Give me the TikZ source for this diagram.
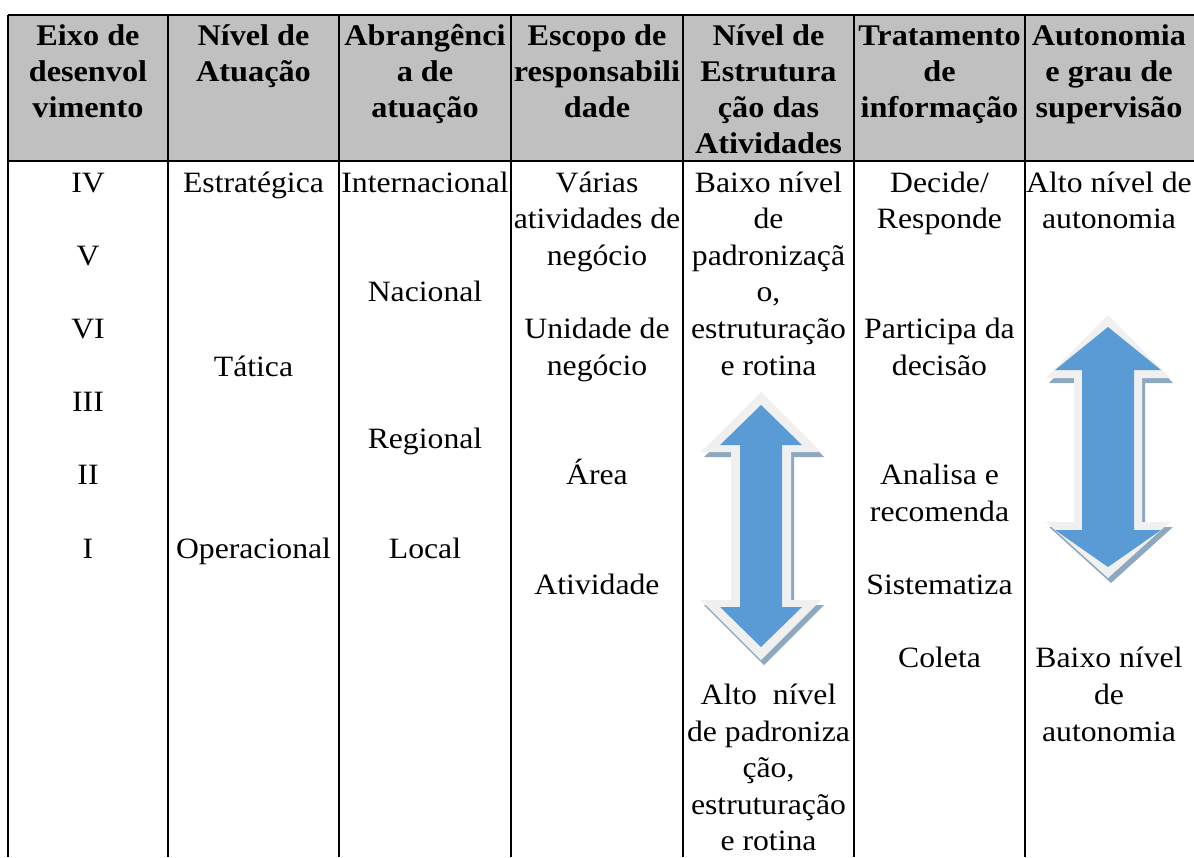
\documentclass[tikz,border=0pt]{standalone}
\usepackage{fontspec}
\setmainfont{Liberation Serif}[FakeStretch=1.075]
\definecolor{hdrgray}{HTML}{C0C0C0}
\definecolor{arrblue}{HTML}{5B9BD5}
\definecolor{arredge}{HTML}{F0F0F0}
\definecolor{arrshadow}{HTML}{8EA8C0}
\tikzset{
  txt/.style={inner sep=0pt, anchor=base, font=\fontsize{29.5}{36}\selectfont},
  hdr/.style={inner sep=0pt, anchor=base, font=\fontsize{30}{36}\selectfont\bfseries},
  rule/.style={line width=2.5pt, black},
}
% style, name, x, first baseline y, lines
\newcommand\cellat[5]{%
  \foreach \ln [count=\i] in {#5} {\node[#1] (#2-\i) at (#3,{#4+(\i-1)*36.6}) {\ln};}}
\newcommand\hcell[4]{%
  \foreach \ln [count=\i] in {#4} {\node[hdr] (#1-\i) at (#2,{#3+(\i-1)*36.3}) {\ln};}}
% fill, cx, top tip, top base, bottom base, bottom tip, wing half, shaft half
\newcommand\arrowlayer[8]{%
  \fill[#1] (#2,#3) -- ({#2+#7},#4) -- ({#2+#8},#4) -- ({#2+#8},#5) -- ({#2+#7},#5)
    -- (#2,#6) -- ({#2-#7},#5) -- ({#2-#8},#5) -- ({#2-#8},#4) -- ({#2-#7},#4) -- cycle;}
\begin{document}
\begin{tikzpicture}[x=1pt,y=-1pt]
\useasboundingbox (0,0) rectangle (1194,857);
\fill[white] (0,0) rectangle (1194,857);
% header background
\fill[hdrgray] (8,15) rectangle (1194,161);
% rules
\draw[rule] (8,15) -- (1194,15);
\draw[rule] (8,161) -- (1194,161);
\foreach \xx in {8,168,339,511,683,854,1025} {\draw[rule] (\xx,15) -- (\xx,857);}
% headers
\hcell{h1}{88}{45}{Eixo de,desenvol,vimento}
\hcell{h2}{253.5}{45}{Nível de,Atuação}
\hcell{h3}{425}{45}{Abrangênci,a de,atuação}
\hcell{h4}{597}{45}{Escopo de,responsabili,dade}
\hcell{h5}{768.5}{45}{Nível de,Estrutura,ção das,Atividades}
\hcell{h6}{939.5}{45}{Tratamento,de,informação}
\hcell{h7}{1109}{45}{Autonomia,e grau de,supervisão}
% column 1
\cellat{txt}{r4}{88}{192}{IV}
\cellat{txt}{r5}{88}{265.2}{V}
\cellat{txt}{r6}{88}{338.4}{VI}
\cellat{txt}{r3}{88}{411.6}{III}
\cellat{txt}{r2}{88}{484.8}{II}
\cellat{txt}{r1}{88}{558}{I}
% column 2
\cellat{txt}{estr}{253.5}{192}{Estratégica}
\cellat{txt}{tat}{253.5}{376}{Tática}
\cellat{txt}{oper}{253.5}{558}{Operacional}
% column 3
\cellat{txt}{inter}{425}{192}{Internacional}
\cellat{txt}{nac}{425}{301.8}{Nacional}
\cellat{txt}{reg}{425}{448.2}{Regional}
\cellat{txt}{loc}{425}{558}{Local}
% column 4
\cellat{txt}{var}{597}{192}{Várias,atividades de,negócio}
\cellat{txt}{uni}{597}{338.4}{Unidade de,negócio}
\cellat{txt}{area}{597}{484.8}{Área}
\cellat{txt}{ativ}{597}{594.6}{Atividade}
% column 5
\cellat{txt}{baixo}{768.5}{192}{Baixo nível,de,padronizaçã,{o,},estruturação,e rotina}
\cellat{txt}{alto}{768.5}{704.4}{Alto\ \ nível,de padroniza,{ção,},estruturação,e rotina}
% column 6
\cellat{txt}{dec}{939.5}{192}{Decide/,Responde}
\cellat{txt}{part}{939.5}{338.4}{Participa da,decisão}
\cellat{txt}{anal}{939.5}{484.8}{Analisa e,recomenda}
\cellat{txt}{sist}{939.5}{594.6}{Sistematiza}
\cellat{txt}{col}{939.5}{667.8}{Coleta}
% column 7
\cellat{txt}{altoaut}{1109}{192}{Alto nível de,autonomia}
\cellat{txt}{baixoaut}{1109}{667.8}{Baixo nível,de,autonomia}
% arrow in column 5
\begin{scope}[shift={(3,5)}]
\arrowlayer{arrshadow}{761}{392}{452}{600}{660}{60}{30}
\end{scope}
\arrowlayer{arredge}{761}{392}{452}{600}{660}{60}{30}
\arrowlayer{arrblue}{761}{405}{445}{607}{647}{41}{21}
% arrow in column 7
\begin{scope}[shift={(3,5)}]
\arrowlayer{arrshadow}{1108}{315}{378}{522}{578}{62}{34}
\end{scope}
\arrowlayer{arredge}{1108}{315}{378}{522}{578}{62}{34}
\arrowlayer{arrblue}{1108}{327}{370}{530}{567}{53}{26}
\end{tikzpicture}
\end{document}
